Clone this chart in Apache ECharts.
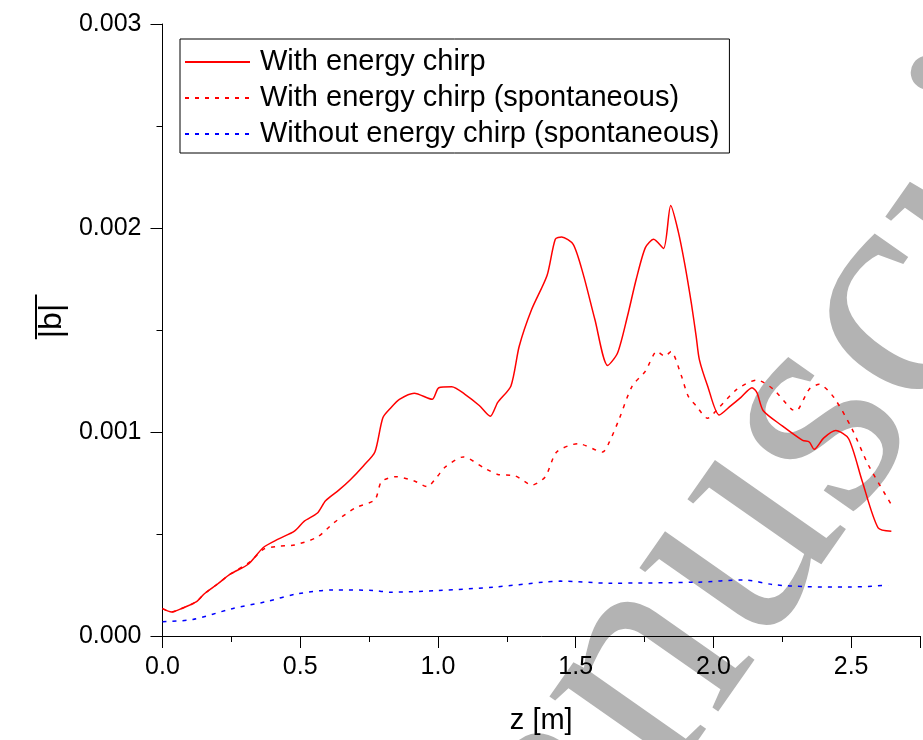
<!DOCTYPE html>
<html>
<head>
<meta charset="utf-8">
<script src="https://cdn.jsdelivr.net/npm/echarts@6/dist/echarts.min.js"></script>
<style>
  html, body { margin: 0; padding: 0; background: #fff; }
  #chart { width: 923px; height: 740px; }
</style>
</head>
<body>
<div id="chart"></div>
<script>
// with energy chirp
const zChirp = [0, 0.033, 0.07, 0.122, 0.152, 0.2, 0.247, 0.3125, 0.366, 0.42, 0.479, 0.515, 0.5625, 0.592, 0.64, 0.681, 0.73, 0.771, 0.80, 0.83, 0.86, 0.914, 0.979, 1.003, 1.05, 1.098, 1.15, 1.19, 1.217, 1.265, 1.295, 1.34, 1.396, 1.426, 1.449, 1.491, 1.527, 1.57, 1.616, 1.652, 1.6875, 1.72, 1.753, 1.783, 1.819, 1.845, 1.872, 1.896, 1.92, 1.9375, 1.949, 1.979, 2.021, 2.0625, 2.10, 2.14, 2.158, 2.181, 2.25, 2.324, 2.348, 2.366, 2.40, 2.444, 2.491, 2.54, 2.598, 2.646];
const bChirp = [0.000134, 0.000118, 0.000135, 0.000167, 0.000207, 0.000255, 0.000304, 0.000353, 0.000434, 0.000475, 0.000514, 0.000563, 0.000603, 0.000663, 0.000715, 0.000765, 0.000835, 0.000902, 0.00107, 0.00112, 0.00116, 0.00119, 0.00116, 0.001217, 0.001222, 0.001185, 0.00113, 0.001077, 0.001145, 0.001226, 0.00142, 0.0016, 0.001767, 0.001945, 0.001956, 0.00192, 0.001775, 0.00155, 0.001326, 0.001387, 0.001565, 0.00175, 0.001904, 0.001945, 0.0019, 0.00211, 0.001985, 0.001823, 0.00163, 0.001468, 0.001355, 0.001226, 0.001083, 0.001128, 0.00117, 0.001217, 0.001193, 0.001104, 0.00103, 0.000959, 0.000951, 0.000915, 0.00097, 0.001007, 0.000967, 0.00076, 0.00053, 0.000514];

// with energy chirp (spontaneous)
const zSpont = [0, 0.033, 0.07, 0.122, 0.152, 0.2, 0.247, 0.319, 0.366, 0.42, 0.479, 0.5625, 0.622, 0.7, 0.771, 0.795, 0.848, 0.914, 0.961, 0.997, 1.027, 1.092, 1.17, 1.217, 1.28, 1.342, 1.39, 1.431, 1.509, 1.598, 1.622, 1.658, 1.705, 1.753, 1.795, 1.824, 1.846, 1.884, 1.908, 1.9375, 1.979, 2.015, 2.086, 2.158, 2.217, 2.283, 2.3, 2.348, 2.384, 2.4375, 2.503, 2.5625, 2.646];
const bSpont = [0.000134, 0.000118, 0.000135, 0.000167, 0.000207, 0.000255, 0.000304, 0.000365, 0.000425, 0.00044, 0.000446, 0.000485, 0.000555, 0.000628, 0.000668, 0.000757, 0.000781, 0.00076, 0.000732, 0.000781, 0.000829, 0.000878, 0.000822, 0.000792, 0.000785, 0.00074, 0.000781, 0.000902, 0.000943, 0.000902, 0.00095, 0.001064, 0.001225, 0.001298, 0.001395, 0.001371, 0.001395, 0.001274, 0.001177, 0.001128, 0.001067, 0.001112, 0.00121, 0.001255, 0.00121, 0.001112, 0.001104, 0.00121, 0.001234, 0.001169, 0.001016, 0.000838, 0.000644];

// without energy chirp (spontaneous)
const zNoChirp = [0, 0.11, 0.253, 0.372, 0.491, 0.622, 0.765, 0.824, 1.003, 1.205, 1.384, 1.444, 1.622, 1.944, 2.11, 2.217, 2.336, 2.491, 2.634];
const bNoChirp = [0.00007, 0.000081, 0.000134, 0.000167, 0.000207, 0.000226, 0.000223, 0.000215, 0.000223, 0.00024, 0.000264, 0.000269, 0.000259, 0.000264, 0.000275, 0.000252, 0.000242, 0.00024, 0.000249];

const names = ['With energy chirp', 'With energy chirp (spontaneous)', 'Without energy chirp (spontaneous)'];

function pairs(zs, bs) {
    return zs.map((z, i) => [z, bs[i]]);
}

const font = 'Liberation Sans, Arial, sans-serif';
let chart = echarts.init(document.getElementById('chart'));

const axisCommon = {
    axisLine: { show: true, lineStyle: { color: '#000', width: 1 } },
    axisTick: { show: true, inside: false, length: 12, lineStyle: { color: '#000' } },
    minorTick: { show: true, splitNumber: 2, length: 6, lineStyle: { color: '#000' } },
    splitLine: { show: false },
    minorSplitLine: { show: false }
};

let option = {
    backgroundColor: '#fff',
    animation: false,
    grid: { left: 162.5, right: -9.5, top: 24, bottom: 97.3, containLabel: false },
    // watermark of the source page
    graphic: [{
        type: 'text',
        x: 770,
        y: 491,
        rotation: 55 * Math.PI / 180,
        z: -10,
        silent: true,
        style: {
            text: 'Manuscript',
            fontSize: 320,
            fontFamily: 'Liberation Serif',
            fill: '#b3b3b3',
            align: 'center',
            verticalAlign: 'middle'
        }
    }],
    legend: {
        left: 180,
        top: 39,
        orient: 'vertical',
        padding: [5, 10, 1, 4],
        itemGap: 0,
        itemWidth: 65,
        itemHeight: 14,
        borderColor: '#000',
        borderWidth: 1,
        borderRadius: 0,
        backgroundColor: '#fff',
        itemStyle: { color: 'rgba(0,0,0,0)', borderWidth: 0, opacity: 0 },
        textStyle: { fontSize: 29, fontFamily: font, color: '#000', lineHeight: 36, padding: [0, 0, 0, 5] },
        data: names
    },
    xAxis: Object.assign({
        type: 'value',
        min: 0,
        max: 2.75,
        interval: 0.5,
        name: 'z [m]',
        nameLocation: 'middle',
        nameGap: 70,
        nameTextStyle: { fontSize: 29, fontFamily: font, color: '#000' },
        axisLabel: {
            margin: 19,
            fontSize: 25,
            fontFamily: font,
            color: '#000',
            formatter: v => (Math.abs(v / 0.5 - Math.round(v / 0.5)) < 1e-6 ? v.toFixed(1) : '')
        }
    }, axisCommon),
    yAxis: Object.assign({
        type: 'value',
        min: 0,
        max: 0.003,
        interval: 0.001,
        name: '|\u0305b\u0305|\u0305',
        nameLocation: 'middle',
        nameRotate: 90,
        nameGap: 92,
        nameTextStyle: { fontSize: 32, fontFamily: font, color: '#000', padding: [0, 0, 0, 18] },
        axisLabel: {
            margin: 21,
            fontSize: 25,
            fontFamily: font,
            color: '#000',
            formatter: v => v.toFixed(3)
        }
    }, axisCommon),
    series: [
        {
            name: names[0],
            type: 'line',
            data: pairs(zChirp, bChirp),
            symbol: 'none',
            smooth: 0.25,
            z: 3,
            lineStyle: { color: '#ff0000', width: 1.5, type: 'solid' },
            itemStyle: { color: '#ff0000' }
        },
        {
            name: names[1],
            type: 'line',
            data: pairs(zSpont, bSpont),
            symbol: 'none',
            smooth: 0.25,
            z: 3,
            lineStyle: { color: '#ff0000', width: 1.5, type: [4, 6] },
            itemStyle: { color: '#ff0000' }
        },
        {
            name: names[2],
            type: 'line',
            data: pairs(zNoChirp, bNoChirp),
            symbol: 'none',
            smooth: 0.3,
            z: 3,
            lineStyle: { color: '#0000ff', width: 1.5, type: [4, 6] },
            itemStyle: { color: '#0000ff' }
        }
    ]
};

chart.setOption(option);
</script>
</body>
</html>
